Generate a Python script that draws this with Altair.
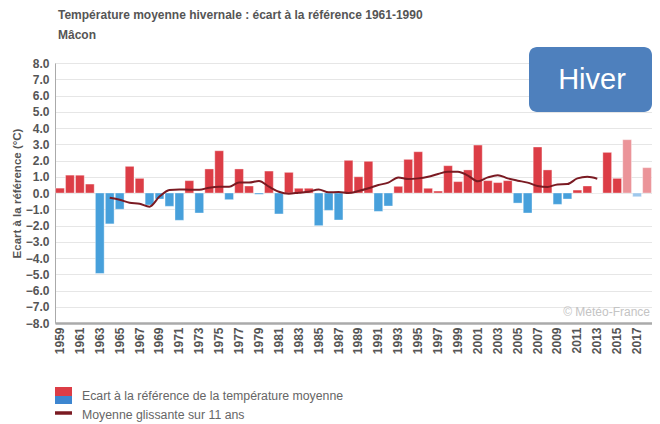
import altair as alt
import pandas as pd

years = list(range(1959, 2019))
anomaly = [0.3, 1.1, 1.1, 0.55, -4.95, -1.9, -1.0, 1.64, 0.9, -0.74,
           -0.37, -0.82, -1.68, 0.76, -1.23, 1.48, 2.6, -0.41, 1.48, 0.43,
           -0.08, 1.35, -1.29, 1.27, 0.29, 0.29, -2.01, -1.07, -1.66, 2.01,
           1.0, 1.95, -1.13, -0.8, 0.41, 2.07, 2.54, 0.29, 0.12, 1.68,
           0.7, 1.42, 2.95, 0.76, 0.64, 0.76, -0.62, -1.23, 2.83, 1.42,
           -0.7, -0.37, 0.18, 0.43, 0.0, 2.5, 0.9, 3.28, -0.23, 1.56]
provisional_years = [2016, 2017, 2018]

ma_years = list(range(1964, 2014))
ma_values = [-0.29, -0.41, -0.6, -0.66, -0.84, -0.22, 0.18, 0.22, 0.2, 0.2,
             0.33, 0.39, 0.39, 0.64, 0.64, 0.74, 0.39, 0.08, -0.04, 0.02,
             0.08, 0.22, 0.04, 0.06, 0.0, 0.12, 0.29, 0.49, 0.64, 0.96,
             0.86, 0.9, 1.0, 1.17, 1.31, 1.31, 1.07, 0.72, 0.96, 1.1,
             0.9, 0.76, 0.64, 0.43, 0.37, 0.53, 0.55, 0.9, 1.0, 0.88]

year_ticks = [1959, 1961, 1963, 1965, 1967, 1969, 1971, 1973, 1975, 1977,
              1979, 1981, 1983, 1985, 1987, 1989, 1991, 1993, 1995, 1997,
              1999, 2001, 2003, 2005, 2007, 2009, 2011, 2013, 2015, 2017]
y_ticks = [-8, -7, -6, -5, -4, -3, -2, -1, 0, 1, 2, 3, 4, 5, 6, 7, 8]

title_text = "Température moyenne hivernale : écart à la référence 1961-1990"
subtitle_text = "Mâcon"
y_title = "Ecart à la référence (°C)"
legend_bar_text = "Ecart à la référence de la température moyenne"
legend_line_text = "Moyenne glissante sur 11 ans"
badge_text = "Hiver"
credit_text = "© Météo-France"

FONT = "Liberation Sans"
GREY = "#555555"
RED = "#dc3d46"
BLUE = "#47a0db"
PINK = "#eb9499"
LIGHTBLUE = "#9ec8ec"
LINE = "#7a1a22"

cats = []
for y, v in zip(years, anomaly):
    c = "pos" if v >= 0 else "neg"
    if y in provisional_years:
        c += "_p"
    cats.append(c)
bars_df = pd.DataFrame({"year": years, "value": anomaly, "cat": cats})
ma_df = pd.DataFrame({"year": ma_years, "value": ma_values})

x_scale = alt.Scale(domain=years, paddingInner=0.12, paddingOuter=0.06)
y_scale = alt.Scale(domain=[-8, 8], nice=False)

x_axis = alt.Axis(values=year_ticks, labelAngle=270, labelFont=FONT, labelFontSize=12,
                  labelFontWeight="bold", labelColor=GREY, labelPadding=4, ticks=False,
                  domainColor="#aaaaaa", domainWidth=2.5, grid=False, labelOverlap=False)
y_axis = alt.Axis(values=y_ticks, format=".1f", labelFont=FONT, labelFontSize=12,
                  labelFontWeight="bold", labelColor=GREY, labelPadding=6, ticks=False,
                  labelOverlap=False,
                  domainColor="#aaaaaa", domainWidth=1, gridColor="#e6e6e6", gridWidth=1.2,
                  titleFont=FONT, titleFontSize=11.5, titleFontWeight="bold", titleColor=GREY,
                  titleAngle=270, titleX=-38, titleY=130, titleAlign="center",
                  titleBaseline="middle")

bars = alt.Chart(bars_df).mark_bar(stroke="#ffffff", strokeOpacity=0.45, strokeWidth=0.8).encode(
    x=alt.X("year:O", scale=x_scale, title=None, axis=x_axis),
    y=alt.Y("value:Q", scale=y_scale, title=y_title, axis=y_axis),
    y2=alt.datum(0),
    color=alt.Color("cat:N", legend=None,
                    scale=alt.Scale(domain=["pos", "neg", "pos_p", "neg_p"],
                                    range=[RED, BLUE, PINK, LIGHTBLUE])),
)

line = alt.Chart(ma_df).mark_line(color=LINE, strokeWidth=2, interpolate="monotone").encode(
    x=alt.X("year:O", scale=x_scale, title=None, axis=x_axis),
    y=alt.Y("value:Q", scale=y_scale, title=y_title, axis=y_axis),
)

badge_df = pd.DataFrame({"label": [badge_text]})
badge_box = alt.Chart(badge_df).mark_rect(color="#4e80bd", cornerRadius=8).encode(
    x=alt.value(474), x2=alt.value(597), y=alt.value(-16), y2=alt.value(49))
badge_label = alt.Chart(badge_df).mark_text(color="#ffffff", font=FONT, fontSize=29,
                                             align="center", baseline="middle").encode(
    x=alt.value(537), y=alt.value(17), text="label:N")

credit_df = pd.DataFrame({"label": [credit_text]})
credit = alt.Chart(credit_df).mark_text(color="#c4c4c4", font=FONT, fontSize=12,
                                        align="right", baseline="middle").encode(
    x=alt.value(595), y=alt.value(249), text="label:N")

leg_df = pd.DataFrame({"label": [legend_bar_text, legend_line_text]})
leg_red = alt.Chart(leg_df).mark_rect(color=RED).encode(
    x=alt.value(0), x2=alt.value(17), y=alt.value(324), y2=alt.value(333))
leg_blue = alt.Chart(leg_df).mark_rect(color="#3d86d0").encode(
    x=alt.value(0), x2=alt.value(17), y=alt.value(333), y2=alt.value(341))
leg_line = alt.Chart(leg_df).mark_rule(color=LINE, strokeWidth=3).encode(
    x=alt.value(0), x2=alt.value(17), y=alt.value(350))
leg_t1 = alt.Chart(pd.DataFrame({"label": [legend_bar_text]})).mark_text(
    color="#666666", font=FONT, fontSize=12.3, align="left", baseline="middle").encode(
    x=alt.value(27), y=alt.value(333), text="label:N")
leg_t2 = alt.Chart(pd.DataFrame({"label": [legend_line_text]})).mark_text(
    color="#666666", font=FONT, fontSize=12.3, align="left", baseline="middle").encode(
    x=alt.value(27), y=alt.value(352), text="label:N")

chart = alt.layer(
    bars, line, badge_box, badge_label, credit,
    leg_red, leg_blue, leg_line, leg_t1, leg_t2
).properties(
    width=597, height=260,
    autosize=alt.AutoSizeParams(type="none"),
    padding={"left": 47, "top": 55, "right": 0, "bottom": 101},
    title=alt.TitleParams(text=title_text, subtitle=subtitle_text, anchor="start", frame="group",
                          font=FONT, fontSize=12, fontWeight="bold", color=GREY,
                          subtitleFont=FONT, subtitleFontSize=12, subtitleFontWeight="bold",
                          subtitleColor=GREY, subtitlePadding=8, offset=5, dx=3),
).configure_view(stroke="transparent").configure(background="#ffffff")

chart.save("out.html", embed_options={"renderer": "svg", "actions": False})
